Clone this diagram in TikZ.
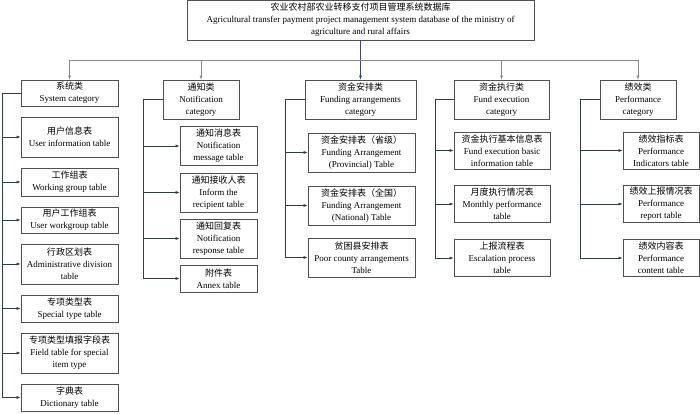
\documentclass[tikz,border=0pt]{standalone}
\usepackage{fontspec}
\setmainfont{Liberation Serif}
\newfontfamily\cjk{Noto Sans CJK SC}
\usepackage{tikz}
\usetikzlibrary{positioning, arrows.meta}
\usepackage{xcolor}
\definecolor{boxline}{HTML}{505050}
\definecolor{busline}{HTML}{8A8A8A}
\definecolor{branchline}{HTML}{2F3F3F}
\definecolor{stemline}{HTML}{404080}

\begin{document}
\begin{tikzpicture}[
        x=1pt, y=-1pt,
        box/.style={rectangle, draw=boxline, line width=0.7pt, inner sep=1pt, align=center, fill=white,
            font=\fontsize{9}{12}\selectfont},
        catbox/.style={box},
        rootbox/.style={box, minimum width=347pt, minimum height=40pt},
        conn/.style={-{Latex[length=4pt, width=3pt]}, line width=0.6pt, branchline}
    ]
    \useasboundingbox (0,0) rectangle (700,413);

    % BASE DE DATOS
    \node[rootbox] (root) at (360.5,20) {{\cjk 农业农村部农业转移支付项目管理系统数据库}\\Agricultural transfer payment project management system database of the ministry of\\agriculture and rural affairs};

    % CATEGORIES
    \node[catbox, minimum width=97pt, minimum height=26pt] (sys) at (69.5,93) {{\cjk 系统类}\\System category};
    \node[catbox, minimum width=76pt, minimum height=39pt] (note) at (201,99.5) {{\cjk 通知类}\\Notification\\category};
    \node[catbox, minimum width=111pt, minimum height=39pt] (fund) at (360.5,99.5) {{\cjk 资金安排类}\\Funding arrangements\\category};
    \node[catbox, minimum width=95pt, minimum height=39pt] (exec) at (501.5,99.5) {{\cjk 资金执行类}\\Fund execution\\category};
    \node[catbox, minimum width=76pt, minimum height=39pt] (perf) at (638,99.5) {{\cjk 绩效类}\\Performance\\category};

    % SYSTEM CATEGORY
    \begin{scope}[every node/.style={box, minimum width=97pt}]
    \node[minimum height=40pt] (uinfo) at (69.5,137) {{\cjk 用户信息表}\\User information table};
    \node[minimum height=28pt] (wgrp) at (69.5,182) {{\cjk 工作组表}\\Working group table};
    \node[minimum height=26pt] (uwgrp) at (69.5,220) {{\cjk 用户工作组表}\\User workgroup table};
    \node[minimum height=40pt] (admin) at (69.5,264) {{\cjk 行政区划表}\\Administrative division\\table};
    \node[minimum height=27pt] (spec) at (69.5,308.5) {{\cjk 专项类型表}\\Special type table};
    \node[minimum height=40pt] (field) at (69.5,353) {{\cjk 专项类型填报字段表}\\Field table for special\\item type};
    \node[minimum height=27pt] (dict) at (69.5,397.5) {{\cjk 字典表}\\Dictionary table};
    \end{scope}

    % NOTIFICATION CATEGORY
    \begin{scope}[every node/.style={box, minimum width=77pt, minimum height=39pt}]
    \node (nmsg) at (218.5,146) {{\cjk 通知消息表}\\Notification\\message table};
    \node (nrecv) at (218.5,192.5) {{\cjk 通知接收人表}\\Inform the\\recipient table};
    \node (nresp) at (218.5,238.5) {{\cjk 通知回复表}\\Notification\\response table};
    \node[minimum height=27pt] (annex) at (218.5,278.5) {{\cjk 附件表}\\Annex table};
    \end{scope}

    % FUNDING ARRANGEMENTS CATEGORY
    \begin{scope}[every node/.style={box, minimum width=107pt, minimum height=39pt}]
    \node (prov) at (361.5,152.5) {{\cjk 资金安排表（省级）}\\Funding Arrangement\\(Provincial) Table};
    \node (natl) at (361.5,205.5) {{\cjk 资金安排表（全国）}\\Funding Arrangement\\(National) Table};
    \node (poor) at (361.5,257.5) {{\cjk 贫困县安排表}\\Poor county arrangements\\Table};
    \end{scope}

    % FUND EXECUTION CATEGORY
    \begin{scope}[every node/.style={box, minimum width=96pt, minimum height=37pt}]
    \node (basic) at (502,150.5) {{\cjk 资金执行基本信息表}\\Fund execution basic\\information table};
    \node (month) at (502,204) {{\cjk 月度执行情况表}\\Monthly performance\\table};
    \node (escal) at (502,258) {{\cjk 上报流程表}\\Escalation process\\table};
    \end{scope}

    % PERFORMANCE CATEGORY
    \begin{scope}[every node/.style={box, minimum width=76pt, minimum height=37pt}]
    \node (pind) at (661,150.5) {{\cjk 绩效指标表}\\Performance\\Indicators table};
    \node (prep) at (661,204) {{\cjk 绩效上报情况表}\\Performance\\report table};
    \node (pcont) at (661,258) {{\cjk 绩效内容表}\\Performance\\content table};
    \end{scope}

    % Conexiones
    \coordinate (bus) at (360.5,60);
    \draw[conn, stemline] (root.south) -- (fund.north);
    \foreach \c in {sys, note, exec, perf}
        \draw[conn, busline] (bus) -| (\c.north);
    \draw[line width=0.6pt, busline] (sys.north |- bus) -- (perf.north |- bus);

    \coordinate (sysx) at (2,93);
    \coordinate (notex) at (143,99.5);
    \coordinate (fundx) at (285,99.5);
    \coordinate (execx) at (435,99.5);
    \coordinate (perfx) at (580,99.5);
    \draw[line width=0.6pt, branchline] (sys.west) -- (sysx);
    \draw[line width=0.6pt, branchline] (note.west) -- (notex);
    \draw[line width=0.6pt, branchline] (fund.west) -- (fundx);
    \draw[line width=0.6pt, branchline] (exec.west) -- (execx);
    \draw[line width=0.6pt, branchline] (perf.west) -- (perfx);
    \foreach \c in {uinfo, wgrp, uwgrp, admin, spec, field, dict}
        \draw[conn] (sysx) |- (\c.west);
    \foreach \c in {nmsg, nrecv, nresp, annex}
        \draw[conn] (notex) |- (\c.west);
    \foreach \c in {prov, natl, poor}
        \draw[conn] (fundx) |- (\c.west);
    \foreach \c in {basic, month, escal}
        \draw[conn] (execx) |- (\c.west);
    \foreach \c in {pind, prep, pcont}
        \draw[conn] (perfx) |- (\c.west);
\end{tikzpicture}
\end{document}
